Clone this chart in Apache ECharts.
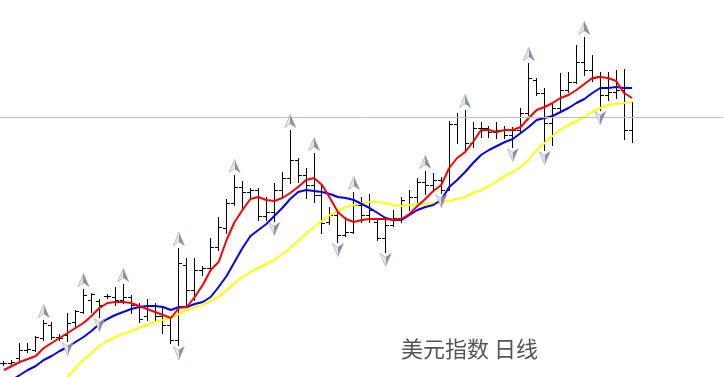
<!DOCTYPE html>
<html>
<head>
<meta charset="utf-8">
<script src="https://cdn.jsdelivr.net/npm/echarts@6/dist/echarts.min.js"></script>
<style>
  html, body { margin: 0; padding: 0; background: #fff; }
  #chart { width: 724px; height: 377px; }
</style>
</head>
<body>
<div id="chart"></div>
<script>
// 美元指数 日线 - OHLC
const opens = [90.37, 90.37, 90.42, 90.50, 90.50, 90.62, 90.75, 90.63, 90.65, 90.78,
  90.88, 91.00, 90.99, 91.04, 91.03, 91.00, 91.03, 90.93, 90.84, 90.94,
  90.84, 90.75, 90.60, 91.35, 91.10, 91.30, 91.32, 91.53, 91.72, 91.97,
  92.13, 92.08, 92.10, 91.84, 91.88, 92.10, 92.22, 92.40, 92.25, 92.15,
  92.05, 91.78, 91.85, 91.65, 91.68, 91.95, 91.85, 91.78, 91.62, 91.75,
  91.82, 91.95, 92.03, 92.18, 92.15, 92.20, 92.10, 92.76, 92.83, 92.57,
  92.72, 92.72, 92.68, 92.70, 92.65, 92.70, 92.87, 93.20, 93.07, 92.77,
  92.92, 93.10, 93.18, 93.38, 93.30, 93.24, 93.05, 93.08, 93.10, 92.70];
const highs = [90.39, 90.40, 90.57, 90.57, 90.64, 90.80, 90.78, 90.66, 90.87, 90.90,
  91.11, 91.07, 91.01, 91.06, 91.13, 91.16, 91.05, 90.97, 91.01, 90.97,
  90.92, 90.83, 91.52, 91.42, 91.42, 91.34, 91.62, 91.83, 92.01, 92.25,
  92.19, 92.12, 92.12, 92.03, 92.17, 92.28, 92.70, 92.42, 92.32, 92.47,
  92.15, 91.93, 91.90, 91.83, 92.08, 92.03, 92.06, 91.80, 91.82, 91.90,
  92.03, 92.10, 92.22, 92.29, 92.27, 92.23, 92.79, 92.87, 92.90, 92.78,
  92.78, 92.74, 92.78, 92.74, 92.73, 92.92, 93.37, 93.22, 93.12, 92.98,
  93.27, 93.28, 93.55, 93.63, 93.45, 93.28, 93.28, 93.30, 93.31, 92.98];
const lows = [90.35, 90.36, 90.40, 90.48, 90.49, 90.60, 90.61, 90.60, 90.59, 90.74,
  90.87, 90.88, 90.83, 91.02, 90.95, 90.97, 90.87, 90.78, 90.80, 90.80,
  90.67, 90.57, 90.55, 90.93, 91.00, 91.25, 91.30, 91.50, 91.67, 91.95,
  91.90, 92.02, 91.80, 91.80, 91.79, 92.02, 92.17, 92.18, 92.02, 91.98,
  91.67, 91.76, 91.58, 91.64, 91.67, 91.78, 91.78, 91.60, 91.48, 91.74,
  91.78, 91.90, 91.95, 92.06, 92.10, 92.07, 92.10, 92.57, 92.48, 92.53,
  92.63, 92.63, 92.62, 92.62, 92.53, 92.67, 92.85, 93.05, 92.50, 92.55,
  92.90, 93.08, 93.17, 93.25, 93.19, 92.90, 93.00, 93.02, 92.61, 92.58];
const closes = [90.37, 90.38, 90.50, 90.51, 90.63, 90.77, 90.63, 90.62, 90.77, 90.89,
  91.05, 91.06, 90.95, 91.04, 91.00, 91.03, 90.95, 90.81, 90.95, 90.84,
  90.75, 90.60, 91.37, 91.10, 91.30, 91.32, 91.53, 91.73, 91.97, 92.13,
  92.08, 92.10, 91.84, 91.88, 92.10, 92.22, 92.40, 92.25, 92.15, 92.05,
  91.77, 91.85, 91.65, 91.68, 91.95, 91.85, 91.90, 91.62, 91.75, 91.82,
  92.00, 92.03, 92.18, 92.15, 92.20, 92.10, 92.76, 92.83, 92.57, 92.72,
  92.72, 92.68, 92.70, 92.65, 92.70, 92.87, 93.22, 93.07, 92.77, 92.92,
  93.10, 93.18, 93.38, 93.30, 93.22, 93.05, 93.08, 93.10, 92.70, 92.83];

// 均线
const maRed = [90.30, 90.34, 90.38, 90.41, 90.44, 90.52, 90.57, 90.62, 90.67, 90.72,
  90.77, 90.84, 90.92, 90.97, 90.98, 90.98, 90.97, 90.94, 90.91, 90.88,
  90.85, 90.82, 90.92, 90.93, 91.03, 91.15, 91.30, 91.38, 91.60, 91.78,
  91.90, 92.01, 92.03, 92.00, 91.99, 92.02, 92.07, 92.13, 92.20, 92.22,
  92.15, 92.02, 91.88, 91.81, 91.78, 91.80, 91.81, 91.81, 91.81, 91.80,
  91.81, 91.86, 91.94, 92.01, 92.09, 92.15, 92.32, 92.42, 92.48, 92.58,
  92.70, 92.70, 92.68, 92.70, 92.70, 92.73, 92.82, 92.90, 92.93, 92.97,
  93.02, 93.05, 93.10, 93.16, 93.22, 93.23, 93.22, 93.19, 93.07, 93.02];
const maBlue = [90.15, 90.20, 90.25, 90.30, 90.34, 90.40, 90.44, 90.49, 90.53, 90.58,
  90.63, 90.69, 90.76, 90.81, 90.85, 90.88, 90.91, 90.93, 90.94, 90.94,
  90.93, 90.90, 90.93, 90.93, 90.96, 90.98, 91.03, 91.13, 91.24, 91.38,
  91.52, 91.64, 91.70, 91.76, 91.84, 91.92, 92.01, 92.08, 92.10, 92.09,
  92.08, 92.06, 92.03, 92.02, 92.00, 91.96, 91.92, 91.87, 91.82, 91.80,
  91.80, 91.85, 91.90, 91.93, 91.95, 92.00, 92.13, 92.20, 92.28, 92.37,
  92.45, 92.50, 92.54, 92.58, 92.61, 92.67, 92.73, 92.80, 92.82, 92.84,
  92.88, 92.92, 92.97, 93.01, 93.07, 93.12, 93.12, 93.13, 93.12, 93.12];
const maYellow = [89.60, 89.70, 89.79, 89.88, 89.96, 90.03, 90.10, 90.16, 90.23, 90.32,
  90.40, 90.47, 90.54, 90.59, 90.63, 90.66, 90.69, 90.72, 90.75, 90.78,
  90.80, 90.82, 90.86, 90.90, 90.93, 90.95, 90.99, 91.03, 91.10, 91.17,
  91.23, 91.28, 91.32, 91.36, 91.40, 91.46, 91.52, 91.59, 91.66, 91.73,
  91.79, 91.85, 91.89, 91.93, 91.95, 91.97, 91.98, 91.98, 91.97, 91.95,
  91.94, 91.95, 91.96, 91.96, 91.97, 91.98, 91.99, 92.01, 92.03, 92.07,
  92.10, 92.14, 92.19, 92.24, 92.28, 92.33, 92.40, 92.50, 92.57, 92.64,
  92.70, 92.75, 92.79, 92.83, 92.88, 92.92, 92.95, 92.96, 92.97, 92.98];

// 分形
const fractalUp = [5, 10, 15, 22, 29, 36, 39, 44, 53, 58, 66, 73];
const fractalDown = [8, 12, 22, 34, 42, 48, 55, 64, 68, 75];

// 右侧留白
const slots = 91;
const days = Array.from({ length: slots }, (_, i) => String(i + 1));

const chart = echarts.init(document.getElementById("chart"));

const ohlc = opens.map((o, i) => [i, o, highs[i], lows[i], closes[i]]);

const arrowFill = new echarts.graphic.LinearGradient(0, 0, 1, 0, [
  { offset: 0, color: "#eef0f4" },
  { offset: 0.5, color: "#dde1e8" },
  { offset: 0.5, color: "#8f97a5" },
  { offset: 1, color: "#7a8292" },
]);

function maLine(data, color) {
  return {
    type: "line",
    data: data,
    symbol: "none",
    silent: true,
    lineStyle: { color: color, width: 2 },
    z: 3,
  };
}

const option = {
  animation: false,
  backgroundColor: "#fff",
  grid: { left: -4.5, right: 0.5, top: 0, bottom: 0 },
  xAxis: {
    type: "category",
    data: days,
    boundaryGap: true,
    show: false,
  },
  yAxis: {
    type: "value",
    min: 90.23,
    max: 94.0,
    show: false,
    splitLine: { show: false },
  },
  series: [
    {
      type: "custom",
      data: ohlc,
      encode: { x: 0, y: [1, 2, 3, 4] },
      z: 2,
      renderItem: function (params, api) {
        const i = api.value(0);
        const cx = api.coord([i, api.value(2)])[0];
        const x = Math.round(cx - 0.5) + 0.5;
        const yo = Math.round(api.coord([i, api.value(1)])[1]) + 0.5;
        const yh = Math.round(api.coord([i, api.value(2)])[1]);
        const yl = Math.round(api.coord([i, api.value(3)])[1]) + 1;
        const yc = Math.round(api.coord([i, api.value(4)])[1]) + 0.5;
        const st = { stroke: "#000", lineWidth: 1 };
        return {
          type: "group",
          children: [
            { type: "line", shape: { x1: x, y1: yh, x2: x, y2: yl }, style: st },
            { type: "line", shape: { x1: x - 3.5, y1: yo, x2: x, y2: yo }, style: st },
            { type: "line", shape: { x1: x, y1: yc, x2: x + 3.5, y2: yc }, style: st },
          ],
        };
      },
      markLine: {
        silent: true,
        symbol: "none",
        label: { show: false },
        lineStyle: { color: "#c0c0c0", width: 1, type: "solid" },
        data: [{ yAxis: closes[closes.length - 1] }],
      },
    },
    maLine(maYellow, "#ffff00"),
    maLine(maBlue, "#0000ff"),
    maLine(maRed, "#ff0000"),
    {
      type: "scatter",
      data: fractalUp.map((i) => [i, highs[i]]),
      symbol: "path://M6,0L12,14L6,10L0,14Z",
      symbolSize: [11, 13],
      symbolOffset: [0, -9],
      silent: true,
      itemStyle: { color: arrowFill, borderColor: "#9aa1ad", borderWidth: 0.6, opacity: 1 },
      z: 5,
    },
    {
      type: "scatter",
      data: fractalDown.map((i) => [i, lows[i]]),
      symbol: "path://M0,0L6,4L12,0L6,14Z",
      symbolSize: [11, 13],
      symbolOffset: [0, 8],
      silent: true,
      itemStyle: { color: arrowFill, borderColor: "#9aa1ad", borderWidth: 0.6, opacity: 1 },
      z: 5,
    },
  ],
  graphic: [
    {
      type: "text",
      left: 401,
      top: 338,
      silent: true,
      style: {
        text: "美元指数 日线",
        fill: "#555",
        font: '22px "Noto Sans CJK SC", sans-serif',
      },
    },
  ],
};

chart.setOption(option);
</script>
</body>
</html>
